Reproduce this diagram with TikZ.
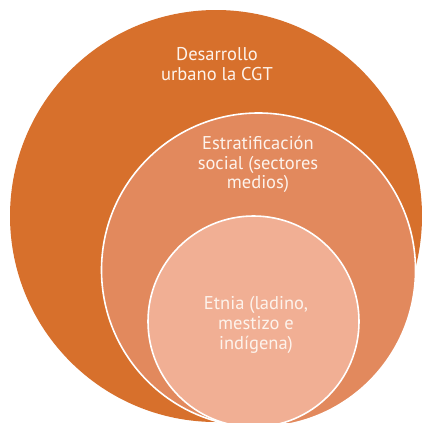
\documentclass[tikz,border=0pt]{standalone}
\usepackage{fontspec}
\setmainfont{PT Sans}
\definecolor{outerC}{HTML}{D7702C}
\definecolor{midC}{HTML}{E2895D}
\definecolor{innerC}{HTML}{F1AF94}
\definecolor{txtC}{HTML}{FDF3EC}
\begin{document}
\begin{tikzpicture}[x=1pt,y=-1pt,
  ring/.style={circle,inner sep=0pt,outer sep=0pt},
  label/.style={text=txtC,align=center,font=\fontsize{18.5}{19.8}\selectfont,inner sep=0pt}]
\clip (0,0) rectangle (422,423);
\fill[white] (0,0) rectangle (422,423);
\node[ring,fill=outerC,minimum size=412pt] (outer) at (216,216) {};
\node[ring,fill=midC,draw=white,line width=1.6pt,minimum size=314pt] (middle) at (258.5,270) {};
\node[ring,fill=innerC,draw=white,line width=1.6pt,minimum size=211pt] (inner) at (253.5,321.5) {};
\node[label] (t1) at (217,64) {Desarrollo\\urbano la CGT};
\node[label] (t2) at (258,164.5) {Estratificación\\social (sectores\\medios)};
\node[label] (t3) at (256,325) {Etnia (ladino,\\mestizo e\\indígena)};
\end{tikzpicture}
\end{document}
